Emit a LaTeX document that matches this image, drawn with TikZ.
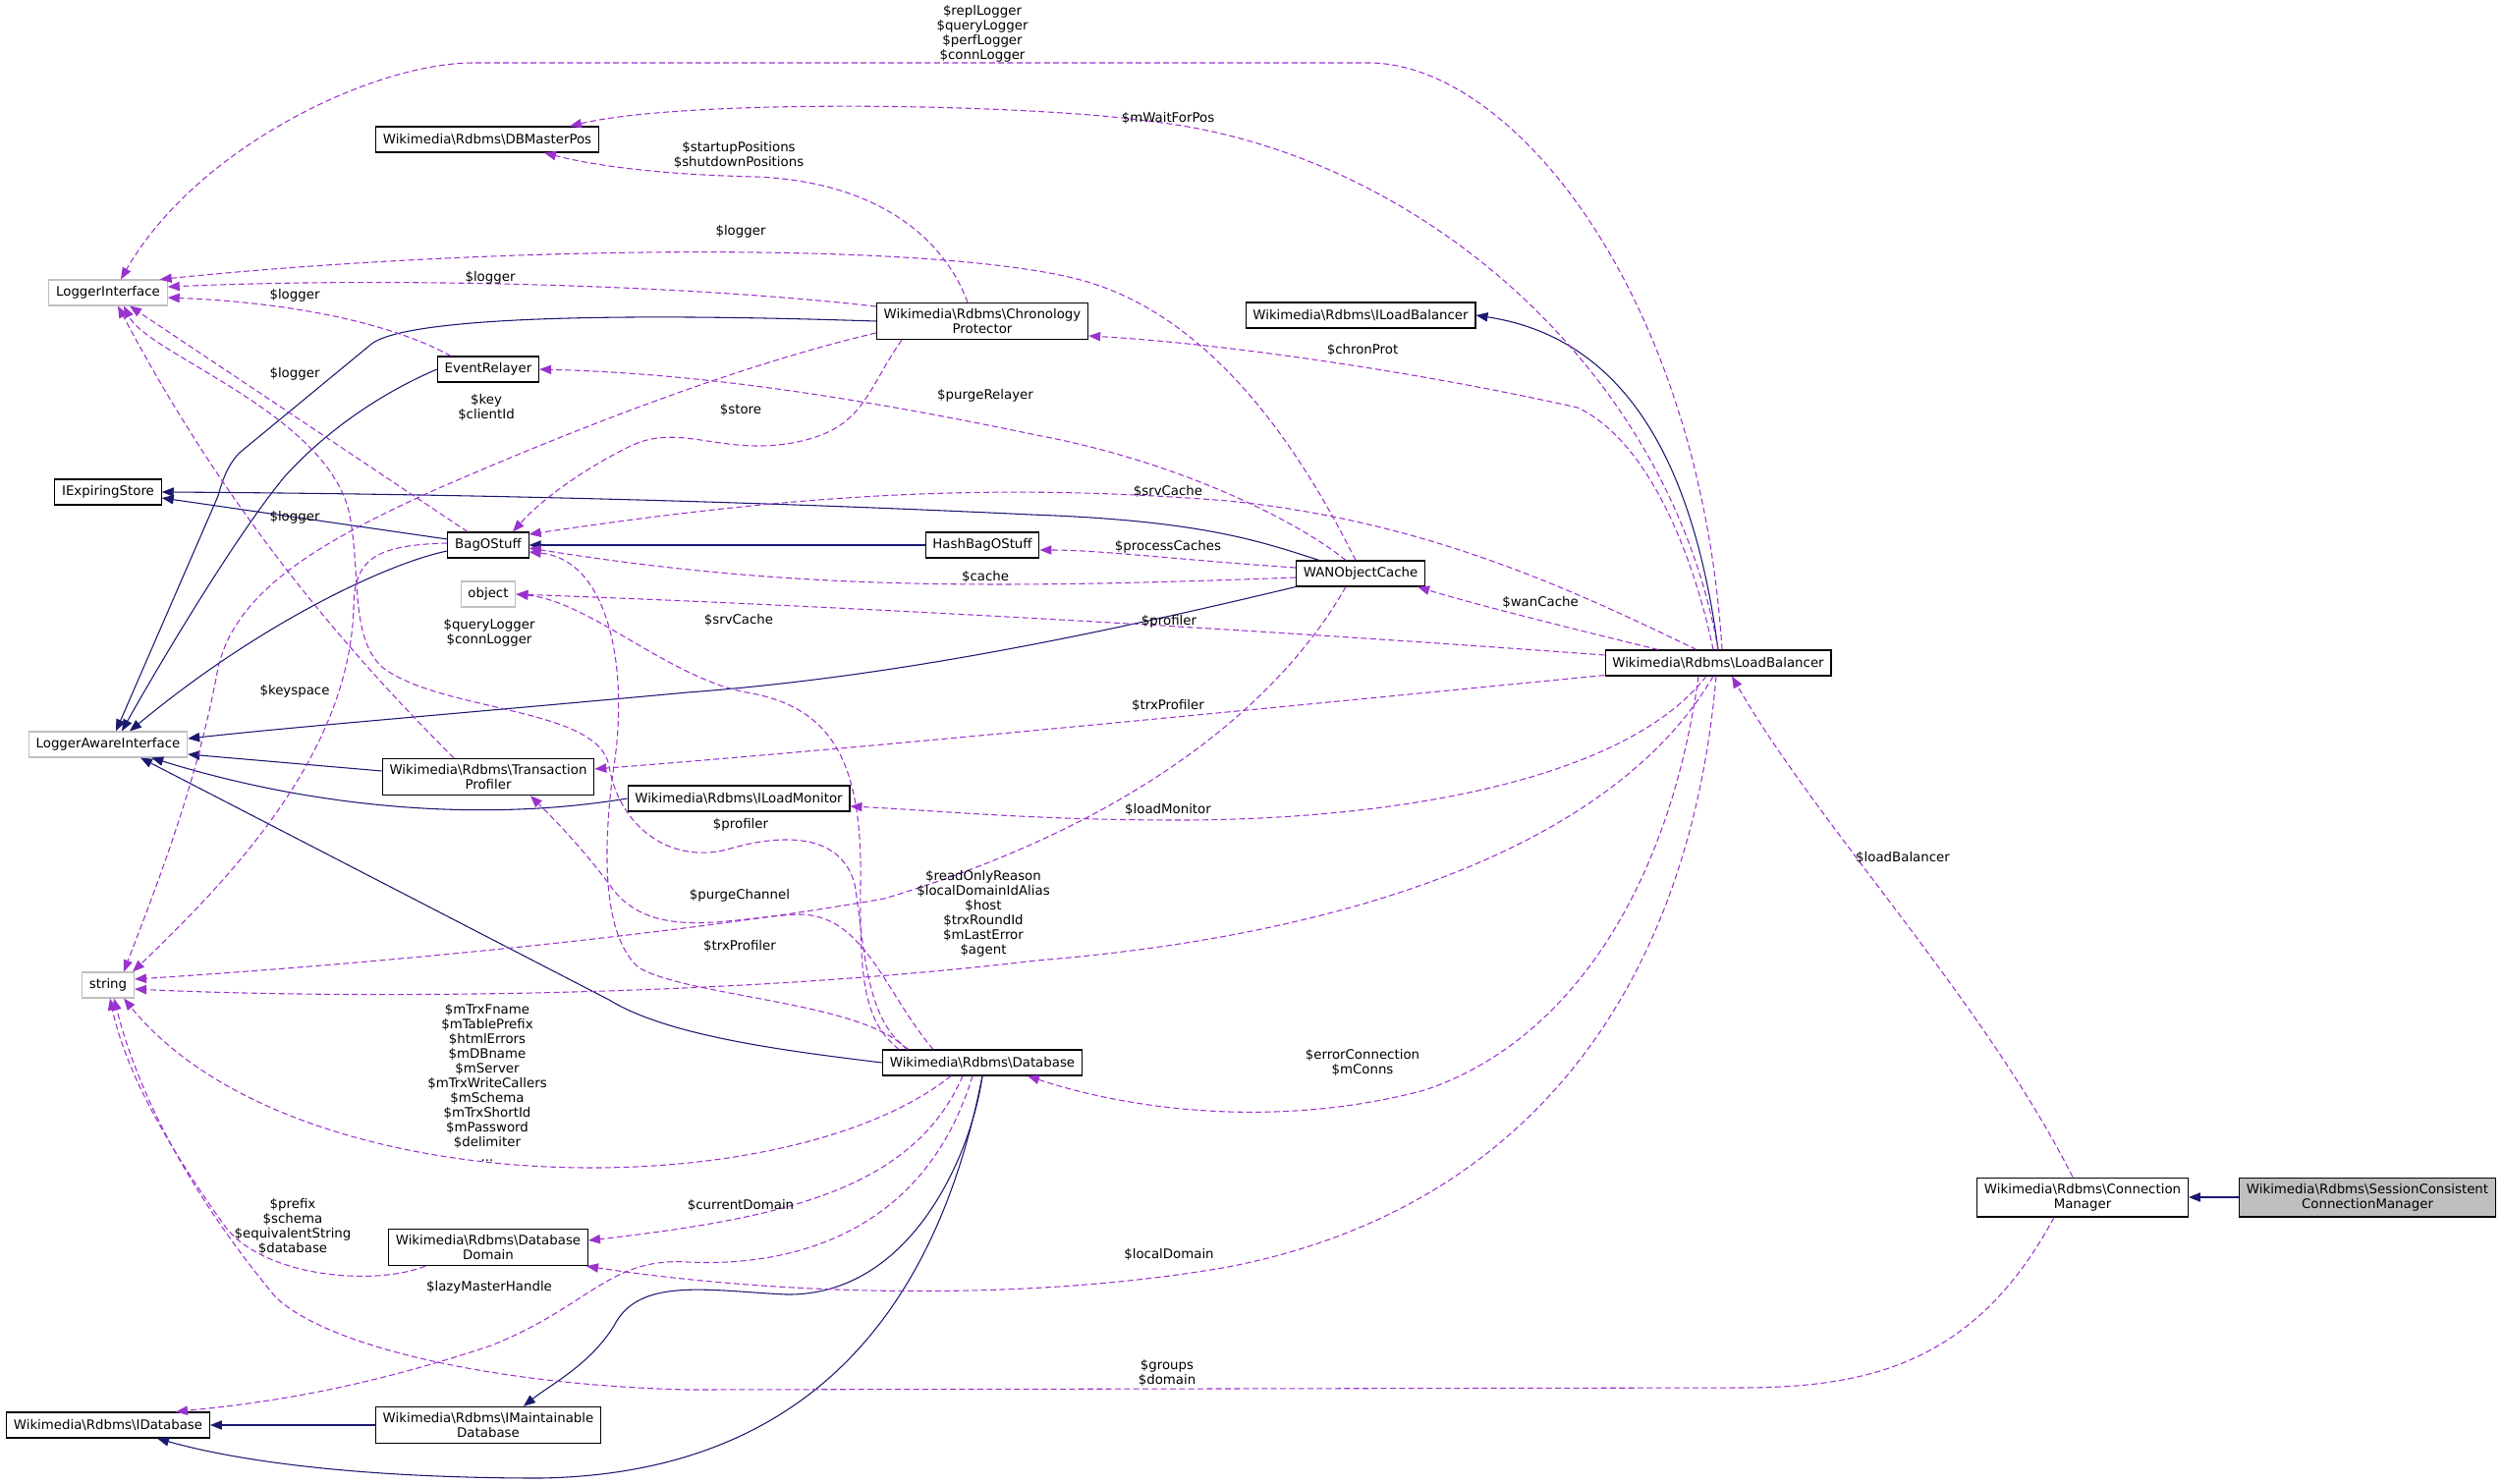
\documentclass[tikz,border=0pt]{standalone}
\usepackage{fontspec}
\setmainfont{DejaVu Sans}
\usetikzlibrary{arrows.meta,calc}
\definecolor{inhcol}{HTML}{191970}
\definecolor{usecol}{HTML}{9A32CD}
\definecolor{extgray}{HTML}{BFBFBF}
\newcommand{\rdbms}{Wikimedia\textbackslash Rdbms\textbackslash}
\begin{document}
\begin{tikzpicture}[x=0.75pt,y=-0.75pt,font=\fontsize{10}{11.25}\selectfont,
 cls/.style={draw=black,line width=0.8pt,fill=white,inner xsep=5.5pt,inner ysep=4.5pt,minimum height=19.5pt,align=center},
 ext/.style={cls,draw=extgray},
 focus/.style={cls,fill=extgray},
 inh/.style={draw=inhcol,line width=0.8pt,-{Triangle[length=9pt,width=7pt]}},
 use/.style={draw=usecol,line width=0.8pt,dash pattern=on 4.5pt off 2.5pt,-{Triangle[length=9pt,width=7pt]}},
 lbl/.style={inner sep=0pt,align=center}]
 \useasboundingbox (0,0) rectangle (2548,1510);
 \node[cls] (dbmp) at (496,142) {\rdbms DBMasterPos};
 \node[ext] (li) at (110,298) {LoggerInterface};
 \node[cls] (cp) at (1000,327) {\rdbms Chronology\\Protector};
 \node[cls] (ilb) at (1385,321) {\rdbms ILoadBalancer};
 \node[cls] (er) at (497,376) {EventRelayer};
 \node[cls] (ies) at (110,501) {IExpiringStore};
 \node[cls] (bag) at (497,555) {BagOStuff};
 \node[cls] (hbag) at (1000,555) {HashBagOStuff};
 \node[ext] (obj) at (497,605) {object};
 \node[cls] (wan) at (1385,584) {WANObjectCache};
 \node[cls] (lb) at (1749,675) {\rdbms LoadBalancer};
 \node[ext] (lai) at (110,758) {LoggerAwareInterface};
 \node[cls] (tp) at (497,791) {\rdbms Transaction\\Profiler};
 \node[cls] (ilm) at (752,813) {\rdbms ILoadMonitor};
 \node[ext] (str) at (110,1003) {string};
 \node[cls] (db) at (1000,1082) {\rdbms Database};
 \node[cls] (dd) at (497,1270) {\rdbms Database\\Domain};
 \node[cls] (idb) at (110,1451) {\rdbms IDatabase};
 \node[cls] (imdb) at (497,1451) {\rdbms IMaintainable\\Database};
 \node[cls] (cm) at (2120,1219) {\rdbms Connection\\Manager};
 \node[focus] (sccm) at (2410,1219) {\rdbms SessionConsistent\\ConnectionManager};

 \draw[inh] (cp.west) .. controls (560,316) and (400,328) .. (376,352) -- (245,460) .. controls (232,472) and (226,490) .. (222,505) -- ($(lai.north)+(8,0)$);
 \draw[inh] (er.west) .. controls (400,395) and (340,430) .. (290,485) .. controls (240,545) and (160,680) .. ($(lai.north)+(14,0)$);
 \draw[inh] ($(bag.west)+(0,-6)$) -- ($(ies.east)+(0,6)$);
 \draw[inh] ($(bag.west)+(0,6)$) .. controls (400,572) and (270,630) .. ($(lai.north)+(22,0)$);
 \draw[inh] ($(wan.north west)+(24,0)$) .. controls (1280,550) and (1220,530) .. (1050,524) .. controls (800,512) and (500,503) .. (ies.east);
 \draw[inh] (wan.south west) .. controls (1100,650) and (900,690) .. (700,705) .. controls (450,728) and (300,740) .. ($(lai.east)+(0,-6)$);
 \draw[inh] (hbag.west) -- (bag.east);
 \draw[inh] ($(tp.west)+(0,-6)$) -- ($(lai.east)+(0,10)$);
 \draw[inh] (ilm.west) .. controls (500,836) and (330,826) .. ($(lai.south east)+(-37,0)$);
 \draw[inh] (db.west) .. controls (800,1070) and (680,1055) .. (620,1018) -- ($(lai.south)+(33,0)$);
 \draw[inh] (db.south) .. controls (990,1170) and (930,1320) .. (800,1318) .. controls (720,1314) and (650,1300) .. (625,1350) .. controls (600,1390) and (560,1410) .. ($(imdb.north)+(36,0)$);
 \draw[inh] (db.south) .. controls (960,1300) and (850,1500) .. (550,1505) .. controls (380,1505) and (250,1490) .. ($(idb.south east)+(-54,0)$);
 \draw[inh] (imdb.west) -- (idb.east);
 \draw[inh] (lb.north) .. controls (1725,480) and (1660,345) .. (ilb.east);
 \draw[inh] (sccm.west) -- (cm.east);

 \draw[use] ($(lb.north)+(4,0)$) .. controls (1730,300) and (1540,64) .. (1393,64) -- (482,64) .. controls (380,64) and (200,150) .. ($(li.north)+(13,0)$);
 \draw[use] (lb.north) .. controls (1700,380) and (1450,160) .. (1183,125) .. controls (1050,105) and (700,100) .. ($(dbmp.north east)+(-30,0)$);
 \draw[use] ($(cp.north)+(-15,0)$) .. controls (960,240) and (890,185) .. (770,180) .. controls (680,178) and (610,170) .. ($(dbmp.south)+(58,0)$);
 \draw[use] ($(wan.north)+(-5,0)$) .. controls (1320,450) and (1230,320) .. (1100,285) .. controls (950,245) and (500,250) .. ($(li.north east)+(-8,0)$);
 \draw[use] ($(cp.west)+(0,-15)$) .. controls (700,290) and (400,282) .. ($(li.east)+(0,-6)$);
 \draw[use] ($(er.north)+(-38,0)$) .. controls (400,330) and (300,308) .. ($(li.east)+(0,5)$);
 \draw[use] ($(bag.north)+(-21,0)$) -- ($(li.south)+(22,0)$);
 \draw[use] ($(tp.north)+(-35,0)$) .. controls (330,640) and (220,500) .. ($(li.south)+(10,0)$);
 \draw[use] ($(db.north)+(-75,0)$) .. controls (880,1040) and (880,960) .. (870,900) .. controls (855,845) and (790,850) .. (740,865) .. controls (680,880) and (630,840) .. (620,780) .. controls (610,720) and (450,725) .. (390,680) .. controls (355,650) and (368,580) .. (355,520) .. controls (330,420) and (150,360) .. ($(li.south)+(16,0)$);
 \draw[use] ($(lb.north)+(-5,0)$) .. controls (1725,570) and (1680,450) .. (1606,415) .. controls (1450,380) and (1250,350) .. ($(cp.east)+(0,15)$);
 \draw[use] ($(wan.north)+(-15,0)$) .. controls (1320,530) and (1200,470) .. (1055,443) .. controls (850,400) and (700,380) .. (er.east);
 \draw[use] ($(cp.south)+(-82,0)$) .. controls (880,400) and (880,440) .. (800,452) .. controls (730,462) and (690,430) .. (640,455) .. controls (590,480) and (550,510) .. ($(bag.north)+(25,0)$);
 \draw[use] ($(cp.west)+(0,12)$) .. controls (760,370) and (600,430) .. (440,500) .. controls (330,550) and (240,600) .. (222,680) .. controls (200,800) and (160,900) .. ($(str.north)+(16,0)$);
 \draw[use] ($(bag.west)+(0,-2)$) .. controls (380,555) and (360,570) .. (360,620) .. controls (355,760) and (250,880) .. ($(str.north)+(25,0)$);
 \draw[use] ($(lb.north)+(-22,0)$) .. controls (1600,600) and (1450,530) .. (1250,510) .. controls (1000,490) and (800,505) .. ($(bag.east)+(0,-11)$);
 \draw[use] ($(wan.west)+(0,4)$) .. controls (1000,600) and (800,600) .. ($(bag.east)+(0,3)$);
 \draw[use] ($(wan.west)+(0,-6)$) .. controls (1200,570) and (1120,560) .. ($(hbag.east)+(0,5)$);
 \draw[use] ($(lb.north)+(-61,0)$) .. controls (1600,640) and (1500,615) .. ($(wan.south east)+(-8,0)$);
 \draw[use] ($(lb.west)+(0,-8)$) .. controls (1200,635) and (800,615) .. (obj.east);
 \draw[use] ($(lb.south west)+(0,-1)$) .. controls (1300,720) and (900,760) .. ($(tp.east)+(0,-8)$);
 \draw[use] ($(lb.south)+(-12,0)$) .. controls (1650,800) and (1400,835) .. (1200,835) .. controls (1050,835) and (950,825) .. ($(ilm.east)+(0,8)$);
 \draw[use] ($(lb.south)+(-5,0)$) .. controls (1650,850) and (1400,950) .. (1055,978) .. controls (700,1020) and (300,1015) .. ($(str.east)+(0,4)$);
 \draw[use] ($(wan.south)+(-15,0)$) .. controls (1300,720) and (1150,840) .. (900,915) .. controls (700,950) and (400,980) .. ($(str.east)+(0,-6)$);
 \draw[use] ($(db.north west)+(25,0)$) .. controls (880,1020) and (700,1015) .. (650,985) .. controls (610,950) and (615,850) .. (625,780) .. controls (640,680) and (620,570) .. ($(bag.east)+(0,7)$);
 \draw[use] ($(db.north)+(-85,0)$) .. controls (880,1040) and (875,1000) .. (876,900) .. controls (878,780) and (850,720) .. (760,705) .. controls (680,690) and (600,612) .. (obj.east);
 \draw[use] ($(db.north)+(-50,0)$) .. controls (900,1010) and (880,930) .. (812,931) .. controls (740,935) and (660,960) .. (620,900) .. controls (590,860) and (560,830) .. ($(tp.south)+(43,0)$);
 \draw[use] ($(db.south)+(-32,0)$) .. controls (800,1230) and (300,1230) .. ($(str.south)+(16,0)$);
 \draw[use] ($(dd.south west)+(38,0)$) .. controls (380,1310) and (270,1300) .. (230,1250) .. controls (180,1180) and (130,1100) .. ($(str.south)+(2,0)$);
 \draw[use] ($(cm.south)+(-29,0)$) .. controls (2010,1390) and (1900,1413) .. (1770,1413) -- (700,1415) .. controls (500,1410) and (330,1370) .. (280,1320) .. controls (230,1260) and (150,1150) .. ($(str.south)+(6,0)$);
 \draw[use] ($(cm.north)+(-10,0)$) .. controls (2020,1020) and (1850,840) .. ($(lb.south)+(14,0)$);
 \draw[use] ($(lb.south)+(-20,0)$) .. controls (1700,900) and (1600,1060) .. (1450,1110) .. controls (1300,1150) and (1150,1130) .. ($(db.south east)+(-56,0)$);
 \draw[use] ($(lb.south)+(-2,0)$) .. controls (1720,1000) and (1560,1230) .. (1250,1290) .. controls (1050,1325) and (800,1320) .. ($(dd.south east)+(-2,0)$);
 \draw[use] ($(db.south)+(-20,0)$) .. controls (930,1210) and (800,1240) .. ($(dd.east)+(0,-7)$);
 \draw[use] ($(db.south)+(-10,0)$) .. controls (940,1260) and (800,1290) .. (700,1285) .. controls (620,1280) and (600,1330) .. (500,1370) .. controls (350,1420) and (250,1430) .. ($(idb.north)+(69,0)$);

 \node[lbl] (lrepl) at (1000,34) {\$replLogger\\\$queryLogger\\\$perfLogger\\\$connLogger};
 \node[lbl] (lwait) at (1189,120) {\$mWaitForPos};
 \node[lbl] (lpos) at (752,158) {\$startupPositions\\\$shutdownPositions};
 \node[lbl] (lwanlog) at (754,236) {\$logger};
 \node[lbl] (lcplog) at (499,283) {\$logger};
 \node[lbl] (lerlog) at (300,301) {\$logger};
 \node[lbl] (lchron) at (1387,356) {\$chronProt};
 \node[lbl] (lbaglog) at (300,381) {\$logger};
 \node[lbl] (lrelay) at (1003,403) {\$purgeRelayer};
 \node[lbl] (lkey) at (495,415) {\$key\\\$clientId};
 \node[lbl] (lstore) at (754,417) {\$store};
 \node[lbl] (lsrv) at (1189,500) {\$srvCache};
 \node[lbl] (ltplog) at (300,527) {\$logger};
 \node[lbl] (lproc) at (1189,557) {\$processCaches};
 \node[lbl] (lcache) at (1003,587) {\$cache};
 \node[lbl] (lwan) at (1568,613) {\$wanCache};
 \node[lbl] (lprof) at (1190,633) {\$profiler};
 \node[lbl] (ldbsrv) at (752,631) {\$srvCache};
 \node[lbl] (lqlog) at (498,644) {\$queryLogger\\\$connLogger};
 \node[lbl] (lkeysp) at (300,704) {\$keyspace};
 \node[lbl] (ltrx) at (1189,718) {\$trxProfiler};
 \node[lbl] (lmon) at (1189,824) {\$loadMonitor};
 \node[lbl] (ldbprof) at (754,840) {\$profiler};
 \node[lbl] (llb) at (1937,873) {\$loadBalancer};
 \node[lbl] (lpurge) at (753,912) {\$purgeChannel};
 \node[lbl] (lro) at (1001,930) {\$readOnlyReason\\\$localDomainIdAlias\\\$host\\\$trxRoundId\\\$mLastError\\\$agent};
 \node[lbl] (ldbtrx) at (753,963) {\$trxProfiler};
 \node[lbl] (lconn) at (1387,1082) {\$errorConnection\\\$mConns};
 \node[lbl] (lfields) at (496,1102) {\$mTrxFname\\\$mTablePrefix\\\$htmlErrors\\\$mDBname\\\$mServer\\\$mTrxWriteCallers\\\$mSchema\\\$mTrxShortId\\\$mPassword\\\$delimiter\\...};
 \node[lbl] (lcur) at (754,1227) {\$currentDomain};
 \node[lbl] (lprefix) at (298,1249) {\$prefix\\\$schema\\\$equivalentString\\\$database};
 \node[lbl] (llocal) at (1190,1277) {\$localDomain};
 \node[lbl] (llazy) at (498,1311) {\$lazyMasterHandle};
 \node[lbl] (lgroups) at (1188,1398) {\$groups\\\$domain};
\end{tikzpicture}
\end{document}
